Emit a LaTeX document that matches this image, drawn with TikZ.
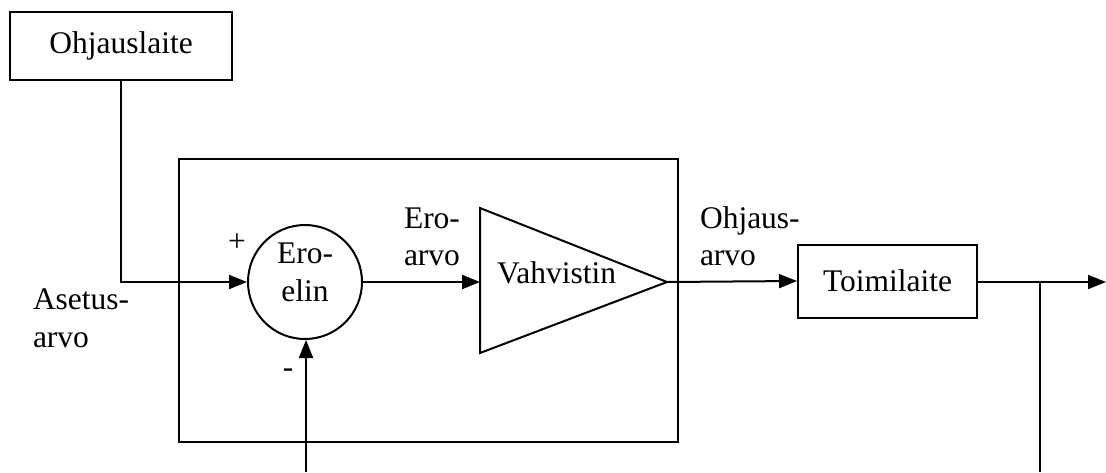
\documentclass[tikz,border=0pt]{standalone}
\usepackage{fontspec}
\setmainfont{Liberation Serif}
\usetikzlibrary{arrows.meta}
\begin{document}
\begin{tikzpicture}[x=1pt,y=-1pt,
  line width=2pt,
  every node/.style={font=\fontsize{31.5}{37}\selectfont, inner sep=0pt},
  box/.style={draw, rectangle, line width=2pt},
  lbl/.style={anchor=base west},
  arr/.style={-{Triangle[length=18pt,width=14pt]}}
]
\useasboundingbox (0,0) rectangle (1106,472);
% boxes
\node[box, minimum width=222pt, minimum height=68pt] (ohj) at (121,46) {Ohjauslaite};
\node[box, minimum width=499pt, minimum height=283pt] (frame) at (428.5,300.5) {};
\node[draw, circle, minimum size=114pt, line width=2pt] (sum) at (305,282) {};
\node[anchor=base] (sumA) at (305,263) {Ero-};
\node[anchor=base] (sumB) at (305,301) {elin};
% amplifier triangle
\coordinate (ampin) at (480,282);
\coordinate (ampout) at (667,282);
\draw[line join=miter] (480,208) -- (ampout) -- (480,353) -- cycle;
\node[lbl] (amptxt) at (496,283) {Vahvistin};
\node[box, minimum width=179pt, minimum height=73pt] (toim) at (887.5,281) {Toimilaite};
% connectors
\coordinate (corner) at (ohj.south |- sum.west);
\draw[arr] (ohj.south) -- (corner) -- (sum.west);
\draw[arr] (sum.east) -- (ampin);
\draw[arr] (ampout) -- (toim.west);
\coordinate (outend) at (1106,282);
\coordinate (branch) at (1040,282);
\coordinate (branchend) at (1040,472);
\draw[arr] (toim.east |- outend) -- (outend);
\draw (branch) -- (branchend);
\coordinate (fbstart) at (306,472);
\draw[arr] (fbstart) -- (sum.south -| fbstart);
% labels
\node[lbl] (as1) at (32,309) {Asetus-};
\node[lbl] (as2) at (32,347) {arvo};
\node (plus) at (237,243) {+};
\node (minus) at (288,373) {-};
\node[lbl] (ea1) at (403,228) {Ero-};
\node[lbl] (ea2) at (403,265) {arvo};
\node[lbl] (oa1) at (699,228) {Ohjaus-};
\node[lbl] (oa2) at (699,265) {arvo};
\end{tikzpicture}
\end{document}
